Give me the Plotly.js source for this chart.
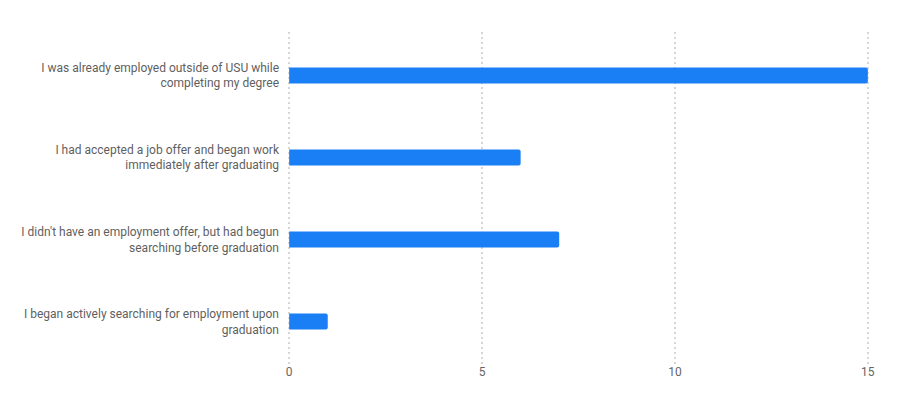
<!DOCTYPE html>
<html>
<head>
<meta charset="utf-8">
<script src="https://cdn.plot.ly/plotly-3.0.1.min.js"></script>
<style>html,body{margin:0;padding:0;background:#fff;}#chart{width:898px;height:403px;}</style>
</head>
<body>
<div id="chart"></div>
<script>
const categories = [
  "I was already employed outside of USU while<br>completing my degree",
  "I had accepted a job offer and began work<br>immediately after graduating",
  "I didn't have an employment offer, but had begun<br>searching before graduation",
  "I began actively searching for employment upon<br>graduation"
];
const values = [15, 6, 7, 1];
const xTicks = [0, 5, 10, 15];

const trace = {
  type: 'bar',
  orientation: 'h',
  x: values,
  y: categories,
  marker: {color: '#1a7ef5', cornerradius: 2},
  hoverinfo: 'x+y'
};

const layout = {
  width: 898, height: 403,
  margin: {l: 288, r: 29, t: 32, b: 38},
  paper_bgcolor: '#fff', plot_bgcolor: '#fff',
  bargap: 0.805,
  showlegend: false,
  font: {family: 'Roboto, sans-serif', size: 12, color: '#5f5f5f'},
  xaxis: {
    range: [-0.03, 15.03],
    tickvals: xTicks,
    ticktext: xTicks.map(String),
    showgrid: true, gridcolor: '#d6d6d6', gridwidth: 2, griddash: '2px,3px',
    zeroline: false, showline: false, ticks: '',
    ticklabelstandoff: -2,
    tickfont: {size: 12, color: '#666'},
    fixedrange: true
  },
  yaxis: {
    range: [3.53, -0.53],
    showgrid: false, zeroline: false, showline: false, ticks: '',
    ticklabelstandoff: 8,
    tickfont: {size: 12, color: '#5f5f5f'},
    fixedrange: true
  }
};

Plotly.newPlot('chart', [trace], layout, {displayModeBar: false, staticPlot: true});
</script>
</body>
</html>
